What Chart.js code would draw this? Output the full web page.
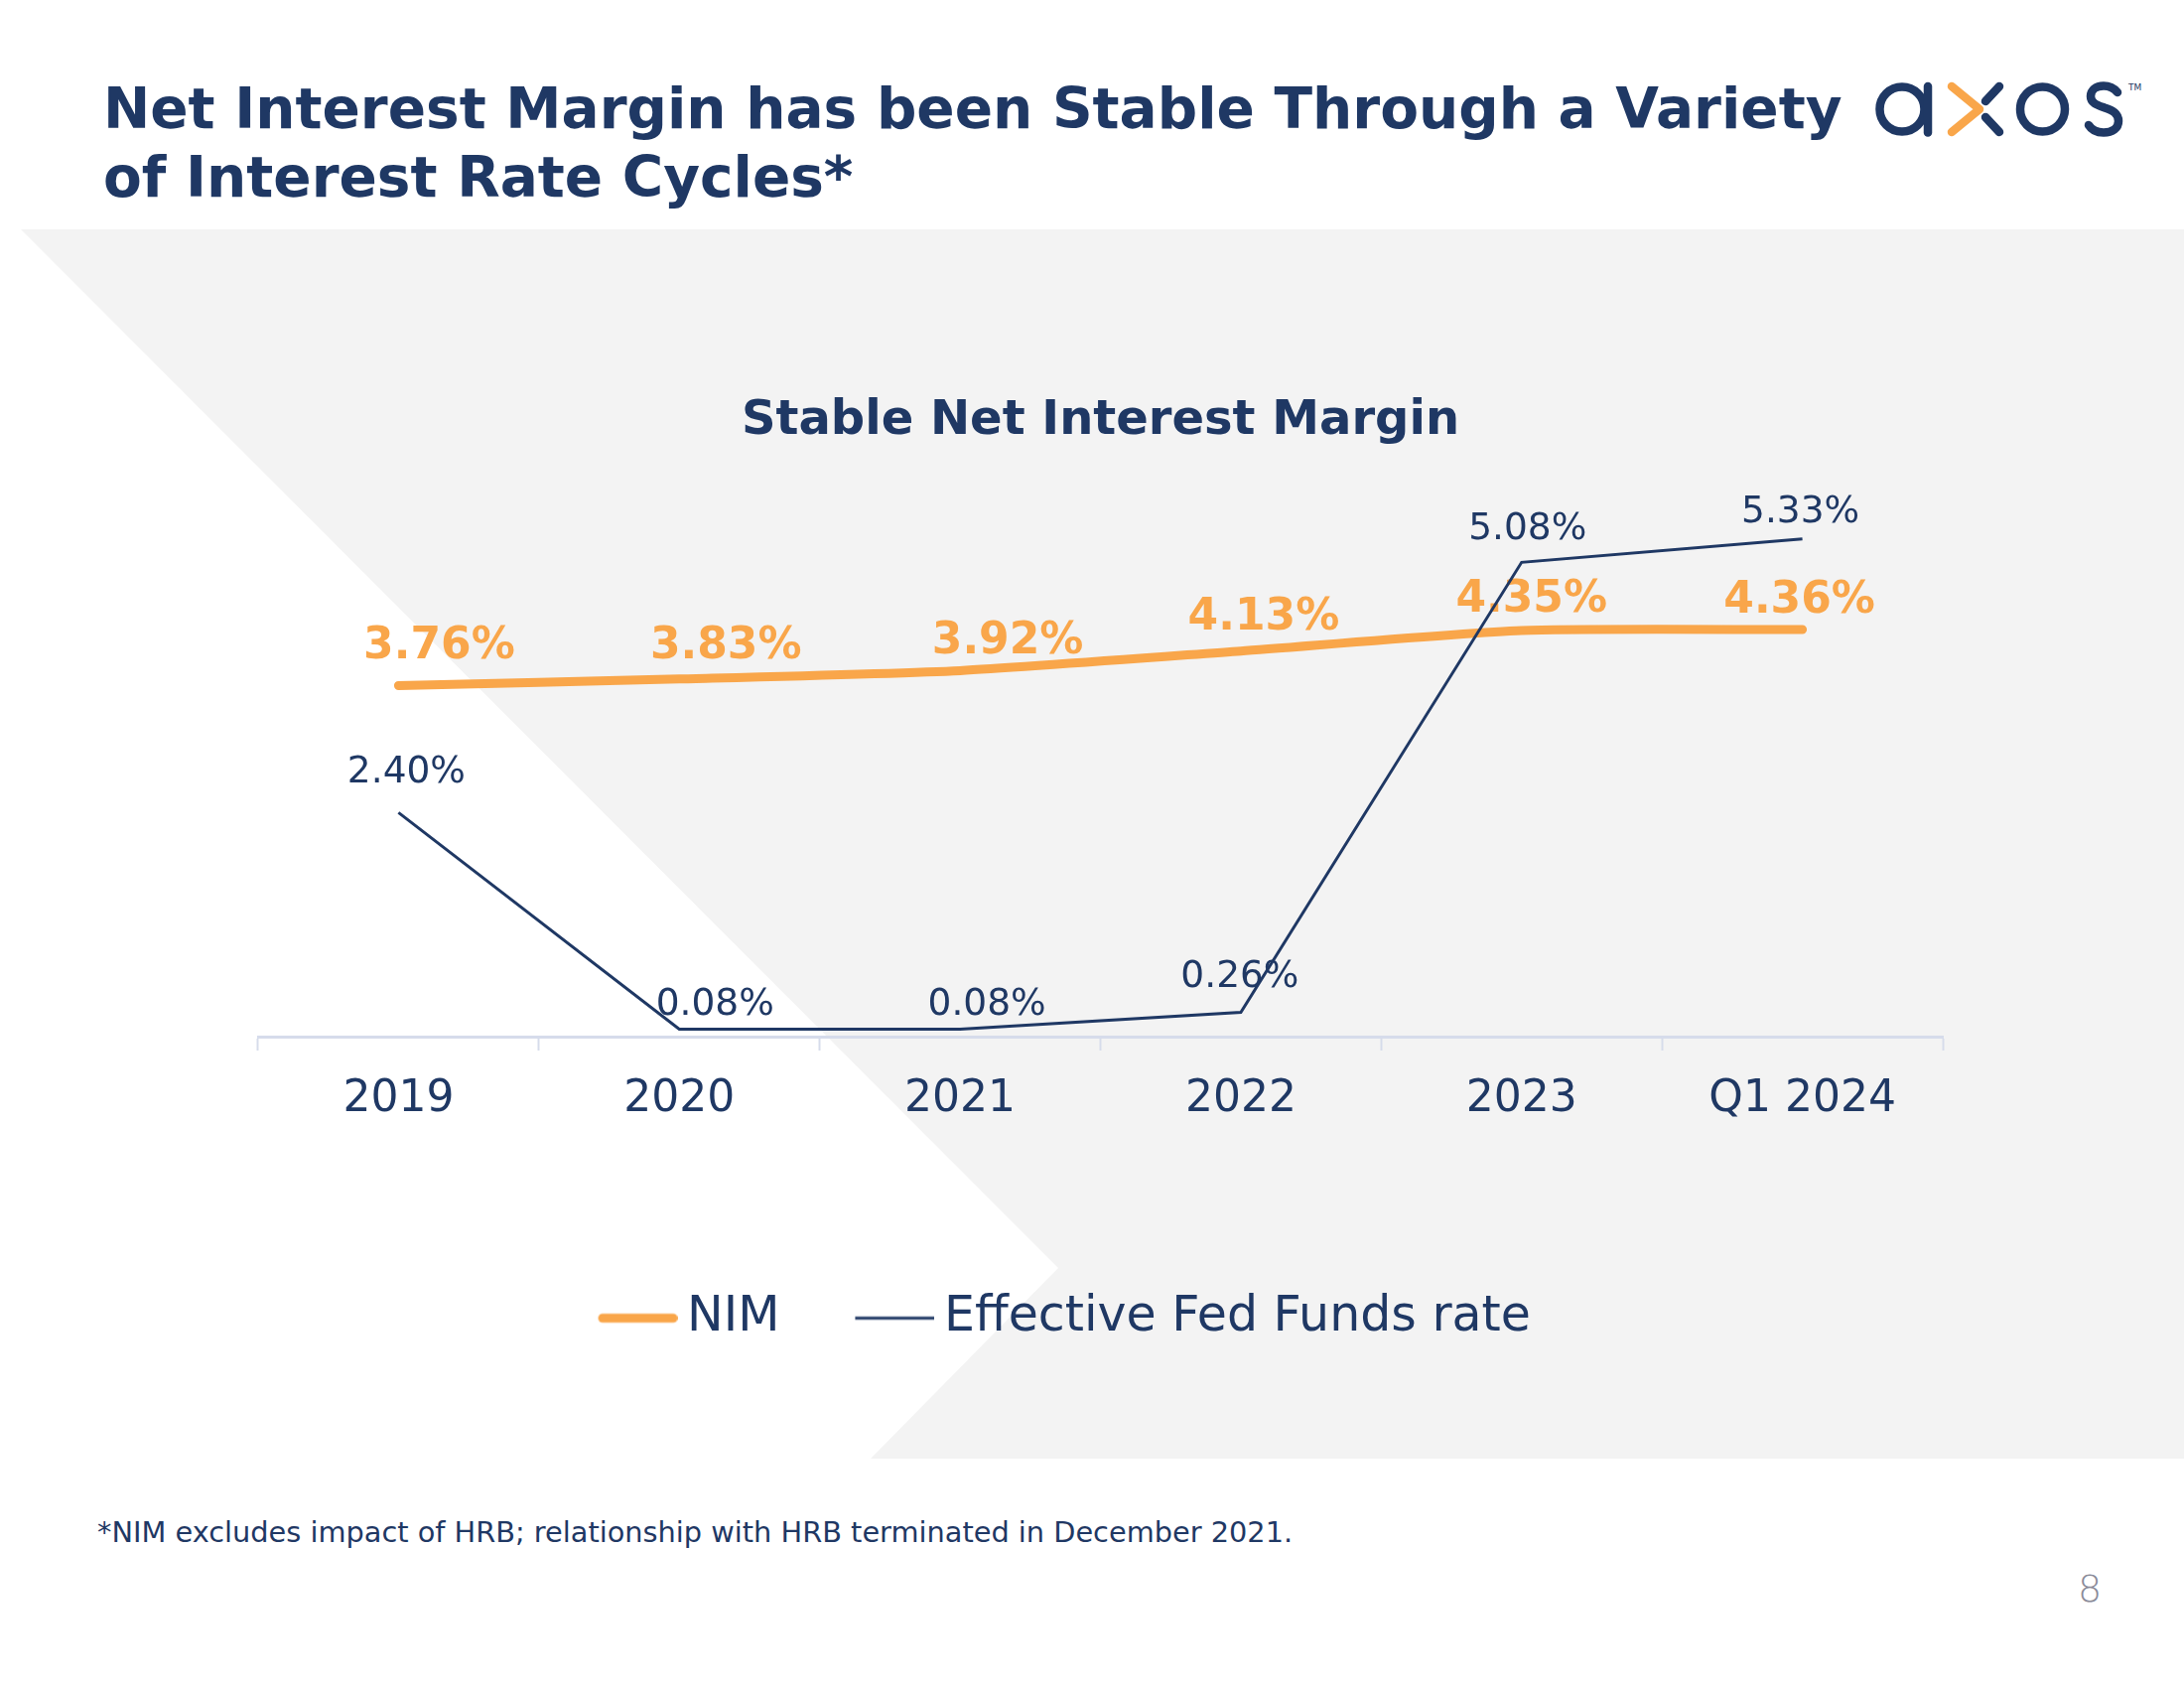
<!DOCTYPE html>
<html>
<head>
<meta charset="utf-8">
<script src="https://cdn.jsdelivr.net/npm/chart.js@4.4.1/dist/chart.umd.min.js"></script>
<style>
  html, body { margin: 0; padding: 0; background: #ffffff; }
  body { width: 2200px; height: 1700px; position: relative; overflow: hidden; font-family: 'DejaVu Sans', Verdana, sans-serif; }
  #bg { position: absolute; left: 0; top: 0; width: 2200px; height: 1700px; background: #F3F3F3;
        clip-path: polygon(21px 231px, 2200px 231px, 2200px 1469px, 877px 1469px, 1066px 1277px); }
  #title { position: absolute; left: 104px; top: 75px; font-size: 56.5px; line-height: 69px; font-weight: bold; color: #1F3864; white-space: nowrap; }
  #logo { position: absolute; left: 1880px; top: 72px; }
  #foot { position: absolute; left: 98px; top: 1529px; font-size: 28.8px; line-height: 28px; color: #1F3864; white-space: nowrap; }
  #page { position: absolute; left: 2093px; top: 1581px; font-size: 38px; line-height: 38px; font-weight: 200; color: #8B8B99; }
  #chart { position: absolute; left: 0; top: 340px; }
</style>
</head>
<body>
<div id="bg"></div>
<div id="title">Net Interest Margin has been Stable Through a Variety<br>of Interest Rate Cycles*</div>
<svg id="logo" width="290" height="80" viewBox="1880 72 290 80">
  <g fill="none" stroke-linecap="round" stroke-linejoin="round" stroke-width="8.5">
    <circle cx="1916" cy="110" r="22.5" stroke="#1F3864"/>
    <line x1="1942" y1="87" x2="1942" y2="133.5" stroke="#1F3864"/>
    <polyline points="1966,87 1994,110 1966,133" stroke="#F9A64A"/>
    <line x1="2014" y1="87" x2="2000" y2="102" stroke="#1F3864"/>
    <line x1="2000" y1="118" x2="2014" y2="133" stroke="#1F3864"/>
    <circle cx="2057.5" cy="110" r="22.5" stroke="#1F3864"/>
    <path d="M2133,93 C2128,87 2122,86.5 2119,86.5 C2111,86.5 2106,91 2106,97 C2106,104 2113,106 2120,108.5 C2128,111 2134,114 2134,122 C2134,129 2128,133.5 2119,133.5 C2112,133.5 2107,131 2104,126" stroke="#1F3864"/>
  </g>
  <text x="2144" y="91" font-size="9" fill="#1F3864" font-family="DejaVu Sans">TM</text>
</svg>
<canvas id="chart" width="2200" height="1030"></canvas>
<div id="foot">*NIM excludes impact of HRB; relationship with HRB terminated in December 2021.</div>
<div id="page">8</div>
<script>
// ---- data ----
const categories = ['2019', '2020', '2021', '2022', '2023', 'Q1 2024'];
const nimValues = [3.76, 3.83, 3.92, 4.13, 4.35, 4.36];
const fedFundsValues = [2.40, 0.08, 0.08, 0.26, 5.08, 5.33];
const seriesNames = ['NIM', 'Effective Fed Funds rate'];
const chartTitle = 'Stable Net Interest Margin';

// ---- styles ----
const NAVY = '#1F3864';
const ORANGE = '#F9A64A';
const AXIS = '#D6DCEB';
const FONT = "'DejaVu Sans', Verdana, sans-serif";

// label placement (pixel offsets from each point)
const labelStyles = [
  { font: 'bold 44px ' + FONT, size: 44, color: ORANGE,
    dx: [41, 47, 48, 23, 10, -3], dy: [-43, -37, -33, -38, -35, -33] },
  { font: '37.5px ' + FONT, size: 37.5, color: NAVY,
    dx: [8, 36, 27, -1, 6, -2], dy: [-44, -28, -28, -39, -37, -30] }
];

function makeLegendLine(color, width, cap) {
  const c = document.createElement('canvas');
  c.width = 95; c.height = 16;
  const g = c.getContext('2d');
  g.strokeStyle = color; g.lineWidth = width; g.lineCap = cap;
  const inset = cap === 'round' ? width / 2 : 0;
  g.beginPath(); g.moveTo(15 + inset, 8); g.lineTo(95 - inset, 8); g.stroke();
  return c;
}

const valueLabels = {
  id: 'valueLabels',
  beforeDatasetsDraw(chart) {
    const ctx = chart.ctx;
    chart.data.datasets.forEach((ds, di) => {
      const meta = chart.getDatasetMeta(di);
      const st = labelStyles[di];
      ctx.save();
      ctx.font = st.font;
      ctx.fillStyle = st.color;
      ctx.textAlign = 'center';
      ctx.textBaseline = 'alphabetic';
      meta.data.forEach((pt, i) => {
        const v = ds.data[i];
        ctx.fillText(v.toFixed(2) + '%', pt.x + st.dx[i], pt.y + st.dy[i] + st.size * 0.3645);
      });
      ctx.restore();
    });
  }
};

Chart.defaults.font.family = FONT;
Chart.defaults.color = NAVY;

new Chart(document.getElementById('chart'), {
  type: 'line',
  data: {
    labels: categories,
    datasets: [
      {
        label: seriesNames[0], data: nimValues,
        borderColor: ORANGE, backgroundColor: ORANGE, borderWidth: 9,
        borderCapStyle: 'round', borderJoinStyle: 'round', tension: 0.2,
        pointRadius: 0, pointHoverRadius: 0, order: 1,
        pointStyle: makeLegendLine(ORANGE, 9, 'round')
      },
      {
        label: seriesNames[1], data: fedFundsValues,
        borderColor: NAVY, backgroundColor: NAVY, borderWidth: 3,
        tension: 0, pointRadius: 0, pointHoverRadius: 0, order: 0,
        pointStyle: makeLegendLine(NAVY, 3, 'butt')
      }
    ]
  },
  options: {
    responsive: false,
    devicePixelRatio: 1,
    animation: false,
    events: [],
    layout: { padding: { left: 187.5, right: 243, top: 0, bottom: 8 } },
    scales: {
      x: {
        offset: true,
        border: { display: true, color: AXIS, width: 3 },
        grid: { display: true, drawOnChartArea: false, drawTicks: true, tickLength: 14, tickWidth: 2, tickColor: AXIS, offset: true },
        ticks: { color: NAVY, font: { size: 44 }, padding: 23, maxRotation: 0, autoSkip: false },
        afterFit: (scale) => { scale.height = 183; }
      },
      y: {
        min: 0, max: 6,
        display: true,
        border: { display: false },
        grid: { display: false, drawTicks: false },
        ticks: { display: false },
        afterFit: (scale) => { scale.width = 72.5; }
      }
    },
    plugins: {
      title: {
        display: true, text: chartTitle, color: NAVY, fullSize: false,
        font: { size: 48, weight: 'bold' },
        padding: { top: 56, bottom: 26.2 }
      },
      legend: {
        display: true, position: 'bottom',
        labels: {
          usePointStyle: true, pointStyleWidth: 65, padding: 76,
          color: NAVY, font: { size: 49 },
          sort: (a, b) => a.datasetIndex - b.datasetIndex
        }
      },
      tooltip: { enabled: false }
    }
  },
  plugins: [valueLabels]
});
</script>
</body>
</html>
